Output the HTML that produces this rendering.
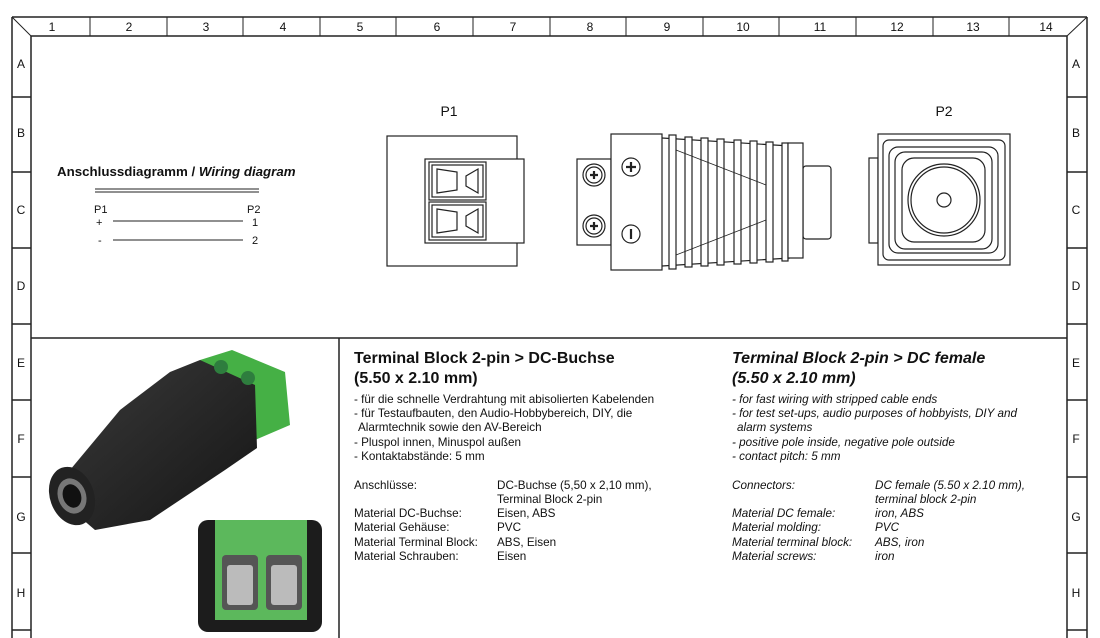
<!DOCTYPE html>
<html><head><meta charset="utf-8"><style>
html,body{margin:0;padding:0;background:#fff;}
svg{display:block}
text{font-family:"Liberation Sans",Arial,sans-serif;fill:#111}
</style></head><body>
<svg width="1100" height="638" viewBox="0 0 1100 638" xmlns="http://www.w3.org/2000/svg">
<rect width="1100" height="638" fill="#fff"/>
<g stroke="#222" fill="none" stroke-width="1">
<line x1="12" y1="17" x2="1087" y2="17" stroke-width="1.5"/>
<line x1="31" y1="36" x2="1067" y2="36" stroke-width="1.5"/>
<line x1="12" y1="17" x2="12" y2="638" stroke-width="1.5"/>
<line x1="31" y1="36" x2="31" y2="638" stroke-width="1.5"/>
<line x1="1087" y1="17" x2="1087" y2="638" stroke-width="1.5"/>
<line x1="1067" y1="36" x2="1067" y2="638" stroke-width="1.5"/>
<line x1="12" y1="17" x2="31" y2="36"/>
<line x1="1087" y1="17" x2="1067" y2="36"/>
<g stroke-width="1">
<line x1="90" y1="17" x2="90" y2="36"/><line x1="167" y1="17" x2="167" y2="36"/><line x1="243" y1="17" x2="243" y2="36"/><line x1="320" y1="17" x2="320" y2="36"/><line x1="396" y1="17" x2="396" y2="36"/><line x1="473" y1="17" x2="473" y2="36"/><line x1="550" y1="17" x2="550" y2="36"/><line x1="626" y1="17" x2="626" y2="36"/><line x1="703" y1="17" x2="703" y2="36"/><line x1="779" y1="17" x2="779" y2="36"/><line x1="856" y1="17" x2="856" y2="36"/><line x1="933" y1="17" x2="933" y2="36"/><line x1="1009" y1="17" x2="1009" y2="36"/>
</g>
<g stroke-width="1.5">
<line x1="12" y1="97" x2="31" y2="97"/><line x1="12" y1="172" x2="31" y2="172"/><line x1="12" y1="248" x2="31" y2="248"/><line x1="12" y1="324" x2="31" y2="324"/><line x1="12" y1="400" x2="31" y2="400"/><line x1="12" y1="477" x2="31" y2="477"/><line x1="12" y1="553" x2="31" y2="553"/><line x1="12" y1="630" x2="31" y2="630"/>
<line x1="1067" y1="97" x2="1087" y2="97"/><line x1="1067" y1="172" x2="1087" y2="172"/><line x1="1067" y1="248" x2="1087" y2="248"/><line x1="1067" y1="324" x2="1087" y2="324"/><line x1="1067" y1="400" x2="1087" y2="400"/><line x1="1067" y1="477" x2="1087" y2="477"/><line x1="1067" y1="553" x2="1087" y2="553"/><line x1="1067" y1="630" x2="1087" y2="630"/>
</g>
<line x1="31" y1="338" x2="1067" y2="338" stroke-width="1.5"/>
<line x1="339" y1="338" x2="339" y2="638" stroke-width="1.5"/>
</g>
<g font-size="12" text-anchor="middle">
<text x="52" y="31">1</text><text x="129" y="31">2</text><text x="206" y="31">3</text><text x="283" y="31">4</text><text x="360" y="31">5</text><text x="437" y="31">6</text><text x="513" y="31">7</text><text x="590" y="31">8</text><text x="667" y="31">9</text><text x="743" y="31">10</text><text x="820" y="31">11</text><text x="897" y="31">12</text><text x="973" y="31">13</text><text x="1046" y="31">14</text>
<text x="21" y="68">A</text><text x="21" y="137">B</text><text x="21" y="214">C</text><text x="21" y="290">D</text><text x="21" y="367">E</text><text x="21" y="443">F</text><text x="21" y="521">G</text><text x="21" y="597">H</text>
<text x="1076" y="68">A</text><text x="1076" y="137">B</text><text x="1076" y="214">C</text><text x="1076" y="290">D</text><text x="1076" y="367">E</text><text x="1076" y="443">F</text><text x="1076" y="521">G</text><text x="1076" y="597">H</text>
</g>
<text x="57" y="176" font-size="13.3" font-weight="bold">Anschlussdiagramm / <tspan font-style="italic">Wiring diagram</tspan></text>
<g stroke="#222"><line x1="95" y1="189" x2="259" y2="189"/><line x1="95" y1="192" x2="259" y2="192"/>
<line x1="113" y1="221" x2="243" y2="221"/><line x1="113" y1="240" x2="243" y2="240"/></g>
<g font-size="11"><text x="94" y="213">P1</text><text x="247" y="213">P2</text><text x="96" y="226">+</text><text x="98" y="244">-</text><text x="252" y="226">1</text><text x="252" y="244">2</text></g>
<text x="449" y="116" font-size="14" text-anchor="middle">P1</text>
<text x="944" y="116" font-size="14" text-anchor="middle">P2</text>
<g stroke="#222" fill="#fff" stroke-width="1.2">
<rect x="387" y="136" width="130" height="130"/>
<rect x="425" y="159" width="99" height="84"/>
<rect x="429" y="162" width="57" height="38"/><rect x="432" y="165" width="51" height="32"/>
<rect x="429" y="202" width="57" height="38"/><rect x="432" y="205" width="51" height="32"/>
<path d="M437 169 L457 172 L457 190 L437 193 Z M478 169 L478 193 L466 186 L466 176 Z" fill="none"/>
<path d="M437 209 L457 212 L457 230 L437 233 Z M478 209 L478 233 L466 226 L466 216 Z" fill="none"/>
<rect x="803" y="166" width="28" height="73" rx="3"/>
<rect x="577" y="159" width="34" height="86"/>
<rect x="611" y="134" width="51" height="136"/>
<path d="M662 138 L790 146 M662 266 L790 258" fill="none"/>
<rect x="669" y="135" width="7" height="134"/><rect x="685" y="137" width="7" height="130"/><rect x="701" y="138" width="7" height="128"/><rect x="717" y="139" width="7" height="126"/><rect x="734" y="140" width="7" height="124"/><rect x="750" y="141" width="7" height="122"/><rect x="766" y="142" width="7" height="120"/>
<rect x="782" y="143" width="6" height="118"/>
<rect x="788" y="143" width="15" height="115"/>
<path d="M676 150 L766 185 M676 255 L766 220" fill="none" stroke-width="0.8"/>
<circle cx="594" cy="175" r="11"/><circle cx="594" cy="175" r="8"/>
<circle cx="594" cy="226" r="11"/><circle cx="594" cy="226" r="8"/>
<circle cx="631" cy="167" r="9"/><circle cx="631" cy="234" r="9"/>
<rect x="869" y="158" width="9" height="85"/>
<rect x="878" y="134" width="132" height="131"/>
<rect x="883" y="140" width="122" height="120" rx="6"/>
<rect x="889" y="147" width="109" height="106" rx="9"/>
<rect x="895" y="152" width="97" height="97" rx="10"/>
<rect x="902" y="158" width="83" height="84" rx="12"/>
<circle cx="944" cy="200" r="36"/><circle cx="944" cy="200" r="33"/><circle cx="944" cy="200" r="7"/>
</g>
<g stroke="#222" stroke-width="2.2"><path d="M590 175 h8 M594 171 v8 M590 226 h8 M594 222 v8 M626 167 h10 M631 162 v10 M631 229 v10"/></g>
<defs><linearGradient id="bk" x1="0" y1="0" x2="1" y2="1"><stop offset="0" stop-color="#3a3a3a"/><stop offset="1" stop-color="#151515"/></linearGradient></defs>
<path d="M200 360 L232 350 L285 372 L290 425 L255 440 L215 395 Z" fill="#45b045"/>
<path d="M170 372 L200 360 L255 385 L257 448 L225 470 L150 520 L95 530 L60 500 L70 470 L120 410 Z" fill="url(#bk)"/>
<ellipse cx="72" cy="496" rx="22" ry="30" fill="#222" transform="rotate(-20 72 496)"/>
<ellipse cx="72" cy="496" rx="14" ry="18" fill="#777" transform="rotate(-20 72 496)"/>
<ellipse cx="72" cy="496" rx="9" ry="12" fill="#111" transform="rotate(-20 72 496)"/>
<circle cx="221" cy="367" r="7" fill="#2e7d3e"/><circle cx="248" cy="378" r="7" fill="#2e7d3e"/>
<rect x="198" y="520" width="124" height="112" rx="10" fill="#1c1c1c"/>
<rect x="215" y="520" width="92" height="100" fill="#5cb85c"/>
<rect x="222" y="555" width="36" height="55" rx="4" fill="#555"/><rect x="266" y="555" width="36" height="55" rx="4" fill="#555"/>
<rect x="227" y="565" width="26" height="40" rx="3" fill="#bbb"/><rect x="271" y="565" width="26" height="40" rx="3" fill="#bbb"/>
<g font-size="16" font-weight="bold"><text x="354" y="363">Terminal Block 2-pin &gt; DC-Buchse</text><text x="354" y="383">(5.50 x 2.10 mm)</text></g>
<g font-size="16" font-weight="bold" font-style="italic"><text x="732" y="363">Terminal Block 2-pin &gt; DC female</text><text x="732" y="383">(5.50 x 2.10 mm)</text></g>
<g font-size="11.7">
<text x="354" y="403">- für die schnelle Verdrahtung mit abisolierten Kabelenden</text>
<text x="354" y="417">- für Testaufbauten, den Audio-Hobbybereich, DIY, die</text>
<text x="358" y="431">Alarmtechnik sowie den AV-Bereich</text>
<text x="354" y="446">- Pluspol innen, Minuspol außen</text>
<text x="354" y="460">- Kontaktabstände: 5 mm</text>
<text x="354" y="489">Anschlüsse:</text><text x="497" y="489">DC-Buchse (5,50 x 2,10 mm),</text>
<text x="497" y="503">Terminal Block 2-pin</text>
<text x="354" y="517">Material DC-Buchse:</text><text x="497" y="517">Eisen, ABS</text>
<text x="354" y="531">Material Gehäuse:</text><text x="497" y="531">PVC</text>
<text x="354" y="546">Material Terminal Block:</text><text x="497" y="546">ABS, Eisen</text>
<text x="354" y="560">Material Schrauben:</text><text x="497" y="560">Eisen</text>
</g>
<g font-size="11.7" font-style="italic">
<text x="732" y="403">- for fast wiring with stripped cable ends</text>
<text x="732" y="417">- for test set-ups, audio purposes of hobbyists, DIY and</text>
<text x="737" y="431">alarm systems</text>
<text x="732" y="446">- positive pole inside, negative pole outside</text>
<text x="732" y="460">- contact pitch: 5 mm</text>
<text x="732" y="489">Connectors:</text><text x="875" y="489">DC female (5.50 x 2.10 mm),</text>
<text x="875" y="503">terminal block 2-pin</text>
<text x="732" y="517">Material DC female:</text><text x="875" y="517">iron, ABS</text>
<text x="732" y="531">Material molding:</text><text x="875" y="531">PVC</text>
<text x="732" y="546">Material terminal block:</text><text x="875" y="546">ABS, iron</text>
<text x="732" y="560">Material screws:</text><text x="875" y="560">iron</text>
</g>
</svg>
</body></html>
